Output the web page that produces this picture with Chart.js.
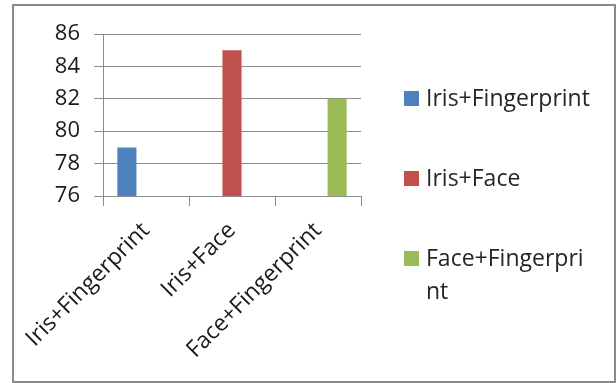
<!DOCTYPE html>
<html>
<head>
<meta charset="utf-8">
<script src="https://cdn.jsdelivr.net/npm/chart.js@4/dist/chart.umd.min.js"></script>
<style>
  html, body { margin: 0; padding: 0; background: #ffffff; }
  #wrap { position: relative; width: 616px; height: 383px; overflow: hidden; background: #ffffff; }
  #c { position: absolute; left: 0; top: 0; }
  #frame { position: absolute; left: 12px; top: 4px; width: 604px; height: 379px; box-sizing: border-box; border: 2px solid #8a8a8a; pointer-events: none; }
  #legend { position: absolute; left: 404px; top: 84px; width: 200px; font-family: 'Open Sans', sans-serif; font-size: 23px; color: #262626; }
  .item { position: absolute; left: 0; width: 200px; }
  .box { position: absolute; left: 0; width: 15px; height: 15px; }
  .txt { position: absolute; left: 22px; width: 170px; line-height: 33px; word-break: break-all; }
</style>
</head>
<body>
<div id="wrap">
  <canvas id="c" width="616" height="383"></canvas>
  <div id="legend"></div>
  <div id="frame"></div>
</div>
<script>
const categories = ["Iris+Fingerprint", "Iris+Face", "Face+Fingerprint"];
const seriesNames = ["Iris+Fingerprint", "Iris+Face", "Face+Fingerprint"];
const irisFingerprint = [79, null, null];
const irisFace = [null, 85, null];
const faceFingerprint = [null, null, 82];
const yTicks = [76, 78, 80, 82, 84, 86];
const seriesColors = ["#4F81BD", "#C0504D", "#9BBB59"];

const seriesData = [irisFingerprint, irisFace, faceFingerprint];
const FONT = "'Open Sans', sans-serif";
const GRID = "#8c8c8c";

const chart = new Chart(document.getElementById('c'), {
  type: 'bar',
  data: {
    labels: categories,
    datasets: seriesNames.map((n, i) => ({
      label: n,
      data: seriesData[i],
      backgroundColor: seriesColors[i],
      borderWidth: 0,
      categoryPercentage: 0.667,
      barPercentage: 1.0
    }))
  },
  options: {
    responsive: false,
    devicePixelRatio: 1,
    animation: false,
    layout: { padding: { left: 0, top: 34, right: 255, bottom: 0 } },
    plugins: { legend: { display: false }, tooltip: { enabled: false } },
    scales: {
      x: {
        grid: { display: true, drawOnChartArea: false, drawTicks: true, tickLength: 10, color: GRID, lineWidth: 1 },
        border: { display: true, color: GRID, width: 1 },
        ticks: { minRotation: 45, maxRotation: 45, color: '#1a1a1a', font: { family: FONT, size: 23 }, padding: 11 },
        afterFit: (s) => { s.height = 187; }
      },
      y: {
        min: 76, max: 86,
        afterBuildTicks: (s) => { s.ticks = yTicks.map(v => ({ value: v })); },
        grid: { color: GRID, lineWidth: 1, drawTicks: true, tickLength: 9 },
        border: { display: true, color: GRID, width: 1 },
        ticks: { color: '#1a1a1a', font: { family: FONT, size: 22 }, padding: 14 },
        afterFit: (s) => { s.width = 103; }
      }
    }
  }
});

// HTML legend built from chart datasets
const legend = document.getElementById('legend');
chart.data.datasets.forEach((ds, i) => {
  const item = document.createElement('div');
  item.className = 'item';
  item.style.top = (i * 80) + 'px';
  const box = document.createElement('div');
  box.className = 'box';
  box.style.top = '7px';
  box.style.background = ds.backgroundColor;
  const txt = document.createElement('div');
  txt.className = 'txt';
  txt.style.top = '-3px';
  txt.textContent = ds.label;
  item.appendChild(box);
  item.appendChild(txt);
  legend.appendChild(item);
});
</script>
</body>
</html>
